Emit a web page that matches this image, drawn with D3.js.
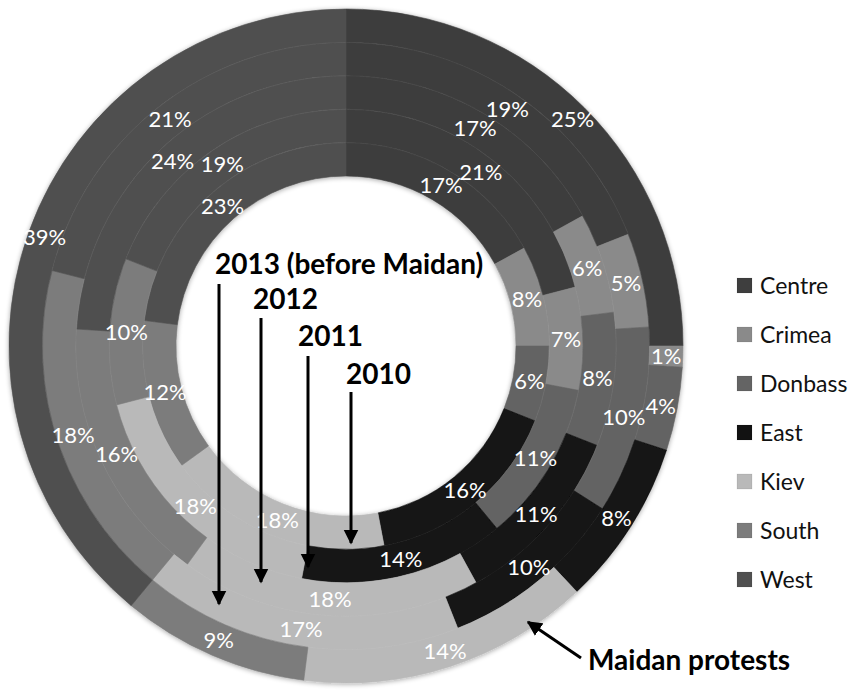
<!DOCTYPE html>
<html>
<head>
<meta charset="utf-8">
<script src="https://cdn.jsdelivr.net/npm/d3@7"></script>
<style>
  html, body { margin: 0; padding: 0; background: #fff; }
  svg { display: block; }
</style>
</head>
<body>
<svg id="chart" width="854" height="692"></svg>
<script>
// Regional shares, one ring per survey (innermost = 2010, outermost = Maidan protests)
const regions = ["Centre", "Crimea", "Donbass", "East", "Kiev", "South", "West"];
const ringNames = ["2010", "2011", "2012", "2013 (before Maidan)", "Maidan protests"];
const share2010 = [17, 8, 6, 16, 18, 12, 23];
const share2011 = [21, 7, 11, 14, 18, 10, 19];
const share2012 = [17, 6, 8, 11, 18, 16, 24];
const share2013 = [19, 5, 10, 10, 17, 18, 21];
const shareMaidan = [25, 1, 4, 8, 14, 9, 39];
const regionColors = ["#3e3e3e", "#8a8a8a", "#646464", "#121212", "#b9b9b9", "#7c7c7c", "#505050"];

const rings = [share2010, share2011, share2012, share2013, shareMaidan];

const svg = d3.select("#chart");
const cx = 346, cy = 346;
const innerR = 170, outerR = 337;

const color = d3.scaleOrdinal().domain(regions).range(regionColors);
const radius = d3.scaleBand()
  .domain(ringNames)
  .range([innerR, outerR])
  .paddingInner(0);

const defs = svg.append("defs");
const shadow = defs.append("filter").attr("id", "soft")
  .attr("x", "-10%").attr("y", "-10%").attr("width", "120%").attr("height", "120%");
shadow.append("feGaussianBlur").attr("in", "SourceAlpha").attr("stdDeviation", 2.5).attr("result", "b");
shadow.append("feOffset").attr("in", "b").attr("dx", 0).attr("dy", 1).attr("result", "o");
shadow.append("feComponentTransfer").attr("in", "o").attr("result", "s")
  .append("feFuncA").attr("type", "linear").attr("slope", 0.35);
const merge = shadow.append("feMerge");
merge.append("feMergeNode").attr("in", "s");
merge.append("feMergeNode").attr("in", "SourceGraphic");

const pie = d3.pie().sort(null).value(d => d.v);

const g = svg.append("g").attr("transform", `translate(${cx},${cy})`).attr("filter", "url(#soft)");

rings.forEach((vals, i) => {
  const name = ringNames[i];
  const r0 = radius(name), r1 = r0 + radius.bandwidth();
  const arc = d3.arc().innerRadius(r0).outerRadius(r1);
  const arcs = pie(vals.map((v, k) => ({ region: regions[k], v })));
  const rg = g.append("g").attr("class", "ring");
  rg.selectAll("path").data(arcs).join("path")
    .attr("d", arc)
    .attr("fill", d => color(d.data.region))
    .attr("stroke", d => color(d.data.region))
    .attr("stroke-width", 0.6);
});

// faint separators between the rings
ringNames.slice(1).forEach(name => {
  g.append("circle").attr("r", radius(name))
    .attr("fill", "none").attr("stroke", "rgba(255,255,255,0.04)").attr("stroke-width", 1);
});

// percentage labels at the centroid of every segment
const labels = svg.append("g").attr("transform", `translate(${cx},${cy})`);
rings.forEach((vals, i) => {
  const name = ringNames[i];
  const r0 = radius(name), r1 = r0 + radius.bandwidth();
  const arc = d3.arc().innerRadius(r0).outerRadius(r1);
  const arcs = pie(vals.map((v, k) => ({ region: regions[k], v })));
  labels.selectAll(null).data(arcs).join("text")
    .attr("transform", d => `translate(${arc.centroid(d)})`)
    .attr("text-anchor", "middle")
    .attr("dy", "0.36em")
    .attr("font-family", "Lato, 'Open Sans', sans-serif")
    .attr("font-size", 22)
    .attr("fill", "#fff")
    .text(d => d.data.v + "%");
});

// legend
const legend = svg.append("g").attr("transform", "translate(737,278)");
const legendRow = d3.scalePoint().domain(regions).range([0, 294]);
const items = legend.selectAll("g").data(regions).join("g")
  .attr("transform", d => `translate(0,${legendRow(d)})`);
items.append("rect").attr("width", 15).attr("height", 15)
  .attr("fill", d => color(d))
  .attr("stroke", "rgba(0,0,0,0.15)").attr("stroke-width", 0.5);
items.append("text")
  .attr("x", 23).attr("y", 7.5).attr("dy", "0.36em")
  .attr("font-family", "Lato, 'Open Sans', sans-serif")
  .attr("font-size", 23)
  .attr("fill", "#111")
  .text(d => d);

// annotations with arrows pointing to each ring
defs.append("marker").attr("id", "head")
  .attr("viewBox", "0 0 10 10").attr("refX", 9).attr("refY", 5)
  .attr("markerWidth", 5).attr("markerHeight", 5.5).attr("orient", "auto")
  .append("path").attr("d", "M0,0 L10,5 L0,10 z").attr("fill", "#000");

const callouts = [
  { text: ringNames[3], tx: 215, ty: 274, x1: 219, y1: 284, x2: 219, y2: 604 },
  { text: ringNames[2], tx: 253, ty: 309, x1: 261, y1: 318, x2: 261, y2: 582 },
  { text: ringNames[1], tx: 298, ty: 346, x1: 308, y1: 356, x2: 308, y2: 567 },
  { text: ringNames[0], tx: 346, ty: 384, x1: 351, y1: 392, x2: 351, y2: 543 },
  { text: ringNames[4], tx: 588, ty: 670, x1: 581, y1: 658, x2: 528, y2: 622 }
];
const ann = svg.append("g");
ann.selectAll("line").data(callouts).join("line")
  .attr("x1", d => d.x1).attr("y1", d => d.y1)
  .attr("x2", d => d.x2).attr("y2", d => d.y2)
  .attr("stroke", "#000").attr("stroke-width", 3)
  .attr("marker-end", "url(#head)");
ann.selectAll("text").data(callouts).join("text")
  .attr("x", d => d.tx).attr("y", d => d.ty)
  .attr("font-family", "Lato, 'Open Sans', sans-serif")
  .attr("font-weight", "bold")
  .attr("font-size", 28)
  .attr("fill", "#000")
  .text(d => d.text);
</script>
</body>
</html>
